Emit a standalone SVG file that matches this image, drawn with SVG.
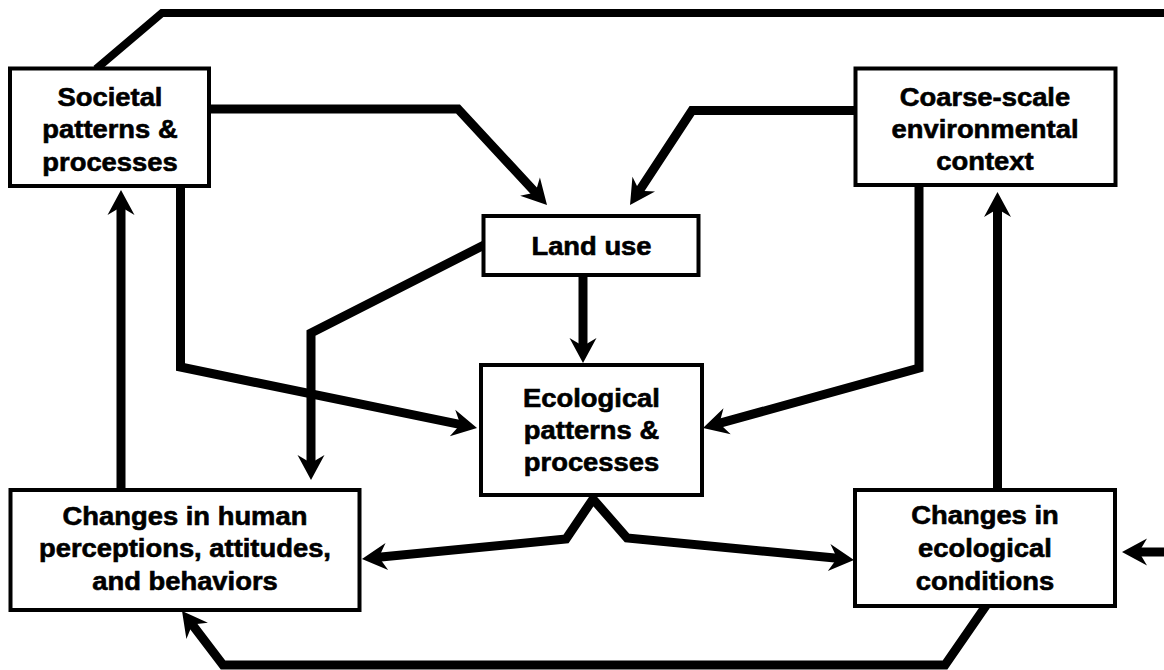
<svg xmlns="http://www.w3.org/2000/svg" width="1164" height="670" viewBox="0 0 1164 670">
  <style>
    .box { fill: #ffffff; stroke: #000000; stroke-width: 4; }
    .lbl { font-family: "Liberation Sans", Arial, sans-serif; font-weight: bold; font-size: 25px; fill: #000000; stroke: #000000; stroke-width: 0.6; text-anchor: middle; }
    .wire { fill: none; stroke: #000000; stroke-width: 9; stroke-linejoin: miter; stroke-miterlimit: 10; }
    .arr { marker-end: url(#head); }
  </style>
  <defs>
    <!-- barbed arrowhead; tip sits 14px beyond the end of the line -->
    <marker id="head" markerUnits="userSpaceOnUse" viewBox="-12 -15 27 30" refX="0" refY="0" markerWidth="27" markerHeight="30" orient="auto-start-reverse" overflow="visible">
      <path d="M14,0 L-11,-13.5 L-3,0 L-11,13.5 Z" fill="#000000"/>
    </marker>
  </defs>

  <!-- connectors -->
  <g id="connectors">
    <!-- feedback loop over the top, leaving the right edge -->
    <path class="wire" style="stroke-width:8" d="M96,69 L162,13 L1170,13"/>
    <!-- societal -> land use -->
    <path class="wire arr" d="M205,109 L458,109 L537.5,194.7"/>
    <!-- coarse-scale -> land use -->
    <path class="wire arr" d="M860,110.5 L692,110.5 L637.7,193.3"/>
    <!-- land use -> ecological -->
    <path class="wire arr" d="M583,270 L583,349"/>
    <!-- land use -> human perceptions -->
    <path class="wire arr" d="M490,242 L311,333 L311,466"/>
    <!-- societal -> ecological -->
    <path class="wire arr" d="M180.5,180 L180.5,367 L463.3,425.2"/>
    <!-- human perceptions -> societal -->
    <path class="wire arr" d="M121,496 L121,204"/>
    <!-- coarse-scale -> ecological -->
    <path class="wire arr" d="M919,180 L919,368 L716.5,424.2"/>
    <!-- ecological conditions -> coarse-scale -->
    <path class="wire arr" d="M997.5,496 L997.5,206"/>
    <!-- ecological -> both kinds of change -->
    <path class="wire" style="marker-start:url(#head);marker-end:url(#head)" d="M375.9,557.6 L566,539 L593,499 L627,538 L840.1,558.6"/>
    <!-- input from the right -->
    <path class="wire arr" d="M1170,552 L1136,552"/>
    <!-- ecological conditions -> human perceptions, along the bottom -->
    <path class="wire arr" d="M992,597 L945,665 L223,665 L190.5,622.2"/>
  </g>

  <g id="societal">
    <rect class="box" x="10" y="68.5" width="199" height="117.5"/>
    <text class="lbl" transform="translate(110 0) scale(1.095 1)" y="106">Societal</text>
    <text class="lbl" transform="translate(110 0) scale(1.095 1)" y="138.5">patterns &amp;</text>
    <text class="lbl" transform="translate(110 0) scale(1.095 1)" y="171">processes</text>
  </g>

  <g id="coarse-scale">
    <rect class="box" x="855.5" y="68.5" width="260" height="116.5"/>
    <text class="lbl" transform="translate(985 0) scale(1.095 1)" y="106">Coarse-scale</text>
    <text class="lbl" transform="translate(985 0) scale(1.095 1)" y="138">environmental</text>
    <text class="lbl" transform="translate(985 0) scale(1.095 1)" y="170">context</text>
  </g>

  <g id="land-use">
    <rect class="box" x="483.5" y="216" width="215" height="59"/>
    <text class="lbl" transform="translate(591.5 0) scale(1.095 1)" y="255">Land use</text>
  </g>

  <g id="ecological">
    <rect class="box" x="481" y="365" width="221" height="130"/>
    <text class="lbl" transform="translate(591.5 0) scale(1.095 1)" y="407">Ecological</text>
    <text class="lbl" transform="translate(591.5 0) scale(1.095 1)" y="439">patterns &amp;</text>
    <text class="lbl" transform="translate(591.5 0) scale(1.095 1)" y="471">processes</text>
  </g>

  <g id="human-change">
    <rect class="box" x="10.5" y="490" width="349" height="120"/>
    <text class="lbl" transform="translate(185 0) scale(1.095 1)" y="525">Changes in human</text>
    <text class="lbl" transform="translate(185 0) scale(1.095 1)" y="557.5">perceptions, attitudes,</text>
    <text class="lbl" transform="translate(185 0) scale(1.095 1)" y="590">and behaviors</text>
  </g>

  <g id="ecological-change">
    <rect class="box" x="855" y="490" width="260" height="116"/>
    <text class="lbl" transform="translate(985 0) scale(1.095 1)" y="524">Changes in</text>
    <text class="lbl" transform="translate(985 0) scale(1.095 1)" y="557">ecological</text>
    <text class="lbl" transform="translate(985 0) scale(1.095 1)" y="590">conditions</text>
  </g>
</svg>
